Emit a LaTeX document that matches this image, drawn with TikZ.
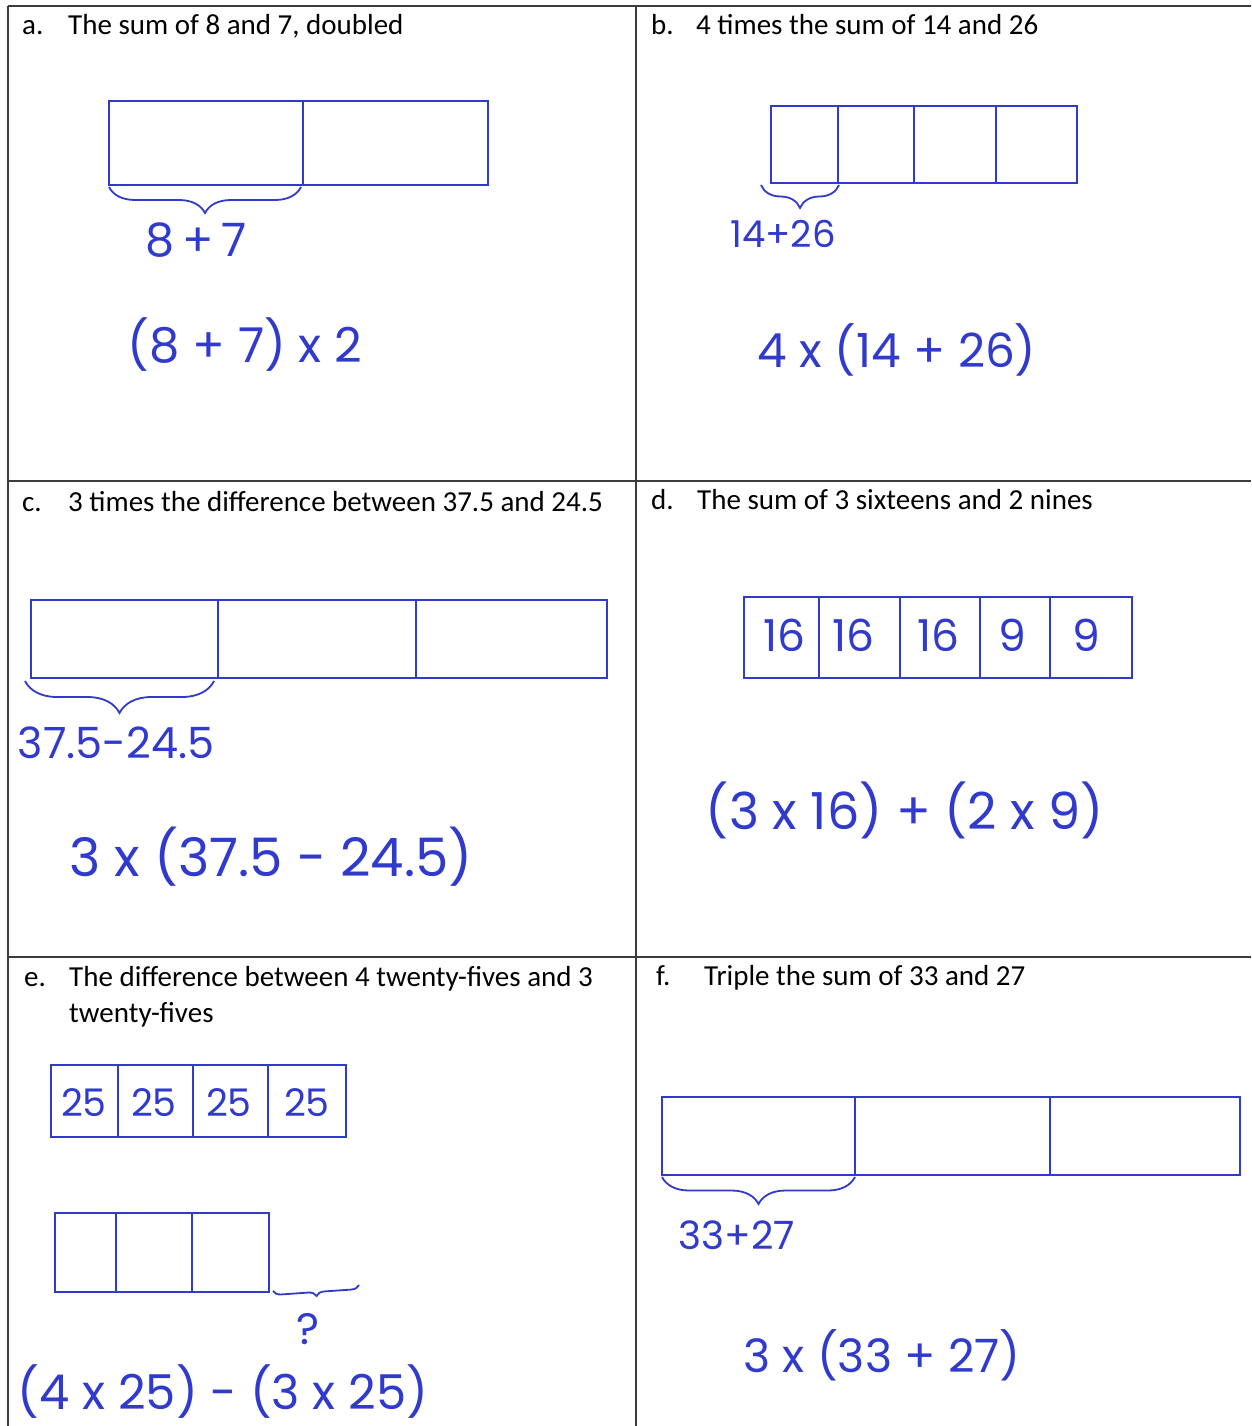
\documentclass[tikz,border=0pt]{standalone}
\usepackage{fontspec}
\setmainfont{Carlito}
\newfontfamily\handfont{Poppins}
\usetikzlibrary{positioning, calc, decorations.pathreplacing}

\definecolor{penblue}{RGB}{48,58,205}
\definecolor{rulegray}{RGB}{60,60,60}

\tikzset{
  rule/.style={draw=rulegray, line width=1.5pt},
  tape/.style={draw=penblue, line width=1.8pt, line cap=round},
  hbrace/.style={draw=penblue, line width=1.8pt, decorate, decoration={brace, mirror, amplitude=#1}},
  tag/.style={anchor=base west, inner sep=0pt, font=\fontsize{29}{35}\selectfont},
  title/.style={anchor=base west, inner sep=0pt, font=\fontsize{29}{35}\selectfont},
  hand/.style={text=penblue, inner sep=0pt, font=\handfont\fontsize{#1}{#1}\selectfont},
  hand/.default=44
}

\begin{document}
\begin{tikzpicture}[x=1pt, y=-1pt]
    \useasboundingbox (0,0) rectangle (1251,1426);
    \clip (0,0) rectangle (1251,1426);

    % Table
    \draw[rule] (8,6) -- (1251,6);
    \draw[rule] (8,481) -- (1251,481);
    \draw[rule] (8,957) -- (1251,957);
    \draw[rule] (8,6) -- (8,1426);
    \draw[rule] (636,6) -- (636,1426);

    % a.
    \node[tag] (tagA) at (22,35) {a.};
    \node[title] (titleA) at (68,35) {The sum of 8 and 7, doubled};
    \draw[tape] (109,101) rectangle (488,185);
    \draw[tape] (303,101) -- (303,185);
    \coordinate (aL) at (109,187);
    \coordinate (aR) at (301,187);
    \draw[hbrace=26] (aL) -- (aR);
    \node[hand=46] (sumA) at (196,240) {8\,+\,7};
    \node[hand=48] (exprA) at (245,345) {(8 + 7) x 2};

    % b.
    \node[tag] (tagB) at (651,35) {b.};
    \node[title] (titleB) at (696,35) {4 times the sum of 14 and 26};
    \draw[tape] (771,106) rectangle (1077,183);
    \foreach \x in {838,914,996} {
        \draw[tape] (\x,106) -- (\x,183);
    }
    \coordinate (bL) at (761,185);
    \coordinate (bR) at (839,185);
    \draw[hbrace=23] (bL) -- (bR);
    \node[hand=37] (sumB) at (783,234) {14+26};
    \node[hand=47] (exprB) at (897,350) {4 x (14 + 26)};

    % c.
    \node[tag] (tagC) at (22,511) {c.};
    \node[title] (titleC) at (68,511) {3 times the difference between 37.5 and 24.5};
    \draw[tape] (31,600) rectangle (607,678);
    \foreach \x in {218,416} {
        \draw[tape] (\x,600) -- (\x,678);
    }
    \coordinate (cL) at (25,681);
    \coordinate (cR) at (214,681);
    \draw[hbrace=32] (cL) -- (cR);
    \node[hand=43] (diffC) at (116,743) {37.5-24.5};
    \node[hand=53] (exprC) at (271,857) {3 x (37.5 - 24.5)};

    % d.
    \node[tag] (tagD) at (651,509) {d.};
    \node[title] (titleD) at (697,509) {The sum of 3 sixteens and 2 nines};
    \draw[tape] (744,597) rectangle (1132,678);
    \foreach \x in {819,900,980,1050} {
        \draw[tape] (\x,597) -- (\x,678);
    }
    \foreach \x/\v [count=\i] in {784/16,853/16,938/16,1012/9,1086/9} {
        \node[hand=44] (partD\i) at (\x,635) {\v};
    }
    \node[hand=51] (exprD) at (905,810) {(3 x 16) + (2 x 9)};

    % e.
    \node[tag] (tagE) at (24,986) {e.};
    \node[title] (titleE) at (69,986) {The difference between 4 twenty-fives and 3};
    \node[title] (titleE2) at (69,1022) {twenty-fives};
    \draw[tape] (51,1065) rectangle (346,1137);
    \foreach \x in {118,193,268} {
        \draw[tape] (\x,1065) -- (\x,1137);
    }
    \foreach \x [count=\i] in {84,154,229,307} {
        \node[hand=38] (fourE\i) at (\x,1103) {25};
    }
    \draw[tape] (55,1213) rectangle (269,1292);
    \foreach \x in {116,192} {
        \draw[tape] (\x,1213) -- (\x,1292);
    }
    \coordinate (eL) at (273,1291);
    \coordinate (eR) at (359,1285);
    \draw[hbrace=8] (eL) -- (eR);
    \node[hand=44] (gapE) at (308,1329) {?};
    \node[hand=48] (exprE) at (223,1392) {(4 x 25) - (3 x 25)};

    % f.
    \node[tag] (tagF) at (656,985) {f.};
    \node[title] (titleF) at (704,985) {Triple the sum of 33 and 27};
    \draw[tape] (662,1097) rectangle (1240,1175);
    \foreach \x in {855,1050} {
        \draw[tape] (\x,1097) -- (\x,1175);
    }
    \coordinate (fL) at (662,1177);
    \coordinate (fR) at (855,1177);
    \draw[hbrace=27] (fL) -- (fR);
    \node[hand=39] (sumF) at (737,1235) {33+27};
    \node[hand=46] (exprF) at (882,1355) {3 x (33 + 27)};

\end{tikzpicture}
\end{document}
